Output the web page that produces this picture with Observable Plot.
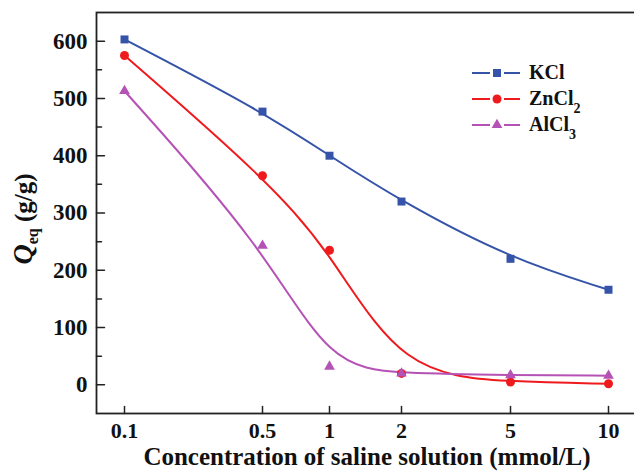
<!DOCTYPE html>
<html><head><meta charset="utf-8">
<script src="https://cdn.jsdelivr.net/npm/d3@7"></script>
<script src="https://cdn.jsdelivr.net/npm/@observablehq/plot@0.6"></script>
<style>body{margin:0;background:#fff;}</style>
</head><body><div id="chart"></div>
<script>
// ---- data ----
const concentrations = [0.1, 0.5, 1, 2, 5, 10];
const xTickLabels = ["0.1", "0.5", "1", "2", "5", "10"];
const kclValues = [603, 477, 400, 320, 220, 166];
const zncl2Values = [575, 365, 235, 20, 5, 2];
const alcl3Values = [513, 243, 32, 20, 17, 16];
const seriesNames = ["KCl", "ZnCl2", "AlCl3"];
const seriesLabels = [["KCl", ""], ["ZnCl", "2"], ["AlCl", "3"]];
const yMajorTicks = [0, 100, 200, 300, 400, 500, 600];
const yMinorTicks = [50, 150, 250, 350, 450, 550];

// ---- styles ----
const colors = ["#3553a8", "#ef1a1e", "#b552b5"];
const symbols = ["square", "circle", "triangle"];
const font = "Liberation Serif";

const rows = [];
[kclValues, zncl2Values, alcl3Values].forEach((vals, s) =>
  vals.forEach((q, i) => rows.push({c: concentrations[i], q, s: seriesNames[s]})));

const tickShape = {draw(ctx, l) { ctx.moveTo(0, 0); ctx.lineTo(0, -l); }};
const axisColor = "#222";

const chart = Plot.plot({
  width: 634, height: 471,
  marginTop: 12, marginLeft: 96, marginRight: -4, marginBottom: 58,
  style: {background: "#fff", color: "#111"},
  x: {type: "linear", domain: concentrations, range: [124, 262, 329, 401, 510, 608]},
  y: {domain: [-50, 650]},
  color: {domain: seriesNames, range: colors},
  symbol: {domain: seriesNames, range: symbols},
  r: {type: "identity"},
  marks: [
    Plot.frame({stroke: axisColor, strokeWidth: 1.8}),
    Plot.axisX(concentrations, {tickSize: 0, tickPadding: 9, label: null, fontSize: 22, fill: "#111",
      tickFormat: d => xTickLabels[concentrations.indexOf(d)]}),
    Plot.axisY(yMajorTicks, {tickSize: 0, tickPadding: 9, label: null, fontSize: 23, fill: "#111"}),
    Plot.vector(concentrations, {x: d => d, frameAnchor: "bottom", rotate: 0, length: 7, anchor: "start", shape: tickShape, stroke: axisColor, strokeWidth: 1.5}),
    Plot.vector(yMajorTicks, {y: d => d, frameAnchor: "left", rotate: 90, length: 8, anchor: "start", shape: tickShape, stroke: axisColor, strokeWidth: 1.5}),
    Plot.vector(yMinorTicks, {y: d => d, frameAnchor: "left", rotate: 90, length: 5, anchor: "start", shape: tickShape, stroke: axisColor, strokeWidth: 1.5}),
    Plot.line(rows, {x: "c", y: "q", z: "s", stroke: "s", curve: "basis", strokeWidth: 2}),
    Plot.dot(rows, {x: "c", y: "q", fill: "s", symbol: "s", r: d => d.s === "AlCl3" ? 4 : 4.5, stroke: "none"})
  ]
});
document.getElementById("chart").appendChild(chart);

const svg = d3.select(chart);
svg.attr("font-family", font).attr("font-weight", "bold");
// x-axis title
svg.append("text").attr("x", 367).attr("y", 465).attr("text-anchor", "middle")
  .attr("font-size", 25).attr("fill", "#111")
  .text("Concentration of saline solution (mmol/L)");
// y-axis title
const yt = svg.append("text").attr("transform", "translate(32,219) rotate(-90)").attr("text-anchor", "middle")
  .attr("font-size", 25).attr("fill", "#111");
yt.append("tspan").attr("font-style", "italic").attr("font-size", 28).text("Q");
yt.append("tspan").attr("font-size", 16).attr("dy", 6).text("eq");
yt.append("tspan").attr("dy", -6).text("\u00a0(g/g)");
// legend
const lg = svg.append("g");
seriesNames.forEach((name, i) => {
  const y = 73 + 26 * i;
  [[472, 490], [504, 520]].forEach(([a, b]) =>
    lg.append("line").attr("x1", a).attr("x2", b).attr("y1", y).attr("y2", y)
      .attr("stroke", colors[i]).attr("stroke-width", 2));
  const sym = [d3.symbolSquare, d3.symbolCircle, d3.symbolTriangle][i];
  lg.append("path").attr("transform", `translate(497,${y})`)
    .attr("d", d3.symbol(sym, i === 2 ? 50 : 64)()).attr("fill", colors[i]);
  const t = lg.append("text").attr("x", 529).attr("y", y + 6).attr("text-anchor", "start")
    .attr("font-size", 20).attr("fill", "#111");
  t.append("tspan").text(seriesLabels[i][0]);
  if (seriesLabels[i][1]) t.append("tspan").attr("font-size", 14).attr("dy", 8).text(seriesLabels[i][1]);
});
svg.selectAll("g, text").attr("font-family", font).attr("font-weight", "bold");
</script></body></html>
